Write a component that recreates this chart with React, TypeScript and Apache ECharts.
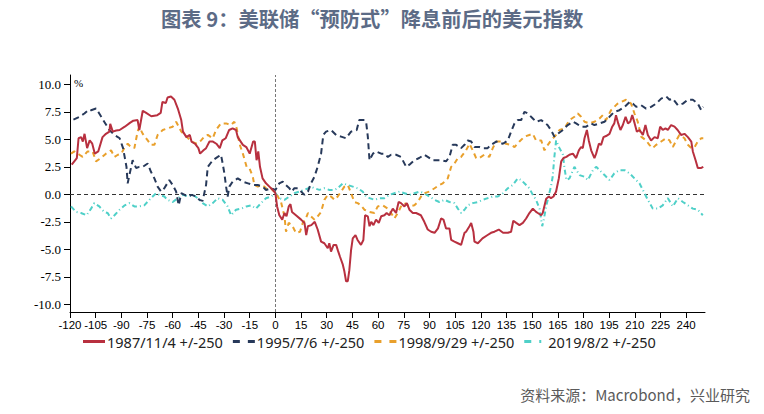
import React, { useEffect, useRef } from "react";
import * as echarts from "echarts";

const TITLE = "图表 9：美联储“预防式”降息前后的美元指数";
const SOURCE = "资料来源：Macrobond，兴业研究";
const UNIT = "%";

const xTicks: number[] = [-120, -105, -90, -75, -60, -45, -30, -15, 0, 15, 30, 45, 60, 75, 90, 105, 120, 135, 150, 165, 180, 195, 210, 225, 240];
const yTicks: number[] = [-10, -7.5, -5, -2.5, 0, 2.5, 5, 7.5, 10];

const seriesNames: string[] = ["1987/11/4 +/-250", "1995/7/6 +/-250", "1998/9/29 +/-250", "2019/8/2 +/-250"];

const s1987: [number, number][] = [
  [-119, 2.7], [-116, 3.3], [-115, 5.1], [-113.5, 5.2], [-112.5, 4.8], [-111.5, 5.5], [-110, 4.2], [-108.5, 4.9], [-107, 4.6], [-105.5, 3.7],
  [-103.5, 3.9], [-101, 5.2], [-99, 5.5], [-97, 5.7], [-96.5, 6.4], [-95, 5.7], [-93, 5.8], [-91, 5.85], [-88, 6.15], [-85, 6.5],
  [-83, 6.7], [-80.5, 6.75], [-79.5, 5.85], [-77.5, 7.6], [-75.5, 7.4], [-72.5, 7.1], [-69, 7.2], [-67, 7.4], [-66, 8.4], [-64, 8.3],
  [-63, 8.8], [-61, 8.9], [-59, 8.6], [-57, 7.8], [-55, 6.75], [-54, 5.7], [-52, 5.2], [-50, 5.4], [-49, 4.8], [-47, 4.6],
  [-45, 4.2], [-44, 3.7], [-42, 4.0], [-40.5, 4.2], [-38.5, 4.8], [-36.5, 4.8], [-34.5, 4.6], [-32.5, 4.2], [-31, 4.9], [-29, 5.1],
  [-27, 5.85], [-25, 6.0], [-23, 5.85], [-22, 5.2], [-19, 4.5], [-17, 4.3], [-15, 3.7], [-13, 4.8], [-12, 4.8], [-11, 3.1],
  [-10, 3.9], [-9, 2.5], [-7.5, 1.45], [-5.5, 1.0], [-3.5, 0.7], [-1.5, 0.4], [0, 0.1], [1, -1.1], [2.3, -1.9], [4, -2.3],
  [5.3, -1.7], [6.5, -2.0], [7.8, -1.1], [8.8, -0.9], [9.7, -1.6], [12, -1.9], [15, -2.3], [17, -2.6], [18, -3.7], [19, -2.9],
  [21, -2.8], [23, -2.5], [24.7, -3.2], [26.7, -4.3], [28.6, -4.45], [30.6, -4.9], [31.5, -4.45], [32.5, -5.2], [34, -4.6], [35.5, -4.6],
  [36.5, -5.1], [37.8, -5.7], [39.4, -6.4], [40.3, -7.0], [41.3, -7.9], [42.3, -7.9], [43.2, -6.9], [44.2, -5.1], [45.2, -4.0], [46.8, -3.7],
  [48, -4.15], [50, -4.6], [51.4, -4.15], [52.4, -1.9], [54, -2.0], [55, -2.9], [56, -2.5], [57.3, -2.8], [58.8, -2.3], [60.4, -2.6],
  [61.8, -2.0], [63.7, -1.9], [65, -1.7], [66.6, -1.9], [68.6, -1.3], [70.5, -1.7], [72, -0.7], [73.4, -0.8], [75.4, -1.1], [76.8, -0.8],
  [78.3, -1.4], [80.3, -1.7], [82.2, -1.7], [85, -1.9], [87, -2.5], [89, -3.2], [91, -3.4], [93, -3.5], [95, -3.1], [96.8, -2.2],
  [98.2, -2.3], [99.7, -3.1], [101.7, -3.1], [102.7, -4.15], [104.6, -4.3], [106.6, -4.45], [108.5, -4.6], [110.5, -3.5], [111.4, -3.4], [113.4, -2.9],
  [114.4, -2.6], [115.7, -3.4], [116.3, -4.3], [118.3, -4.45], [121, -4.0], [124, -3.7], [126, -3.5], [128, -3.4], [130.5, -3.2], [133, -3.5],
  [135.8, -3.5], [137.7, -3.4], [139, -2.4], [140.7, -2.6], [142.6, -2.8], [144.6, -2.6], [146.5, -2.2], [148.4, -1.7], [150.4, -1.3], [152.3, -1.6],
  [153.3, -1.7], [155.3, -1.9], [156.2, -1.7], [158.2, -0.4], [159.8, -0.2], [161, -0.35], [162.5, -0.2], [164, 0.25], [165.6, 1.45], [167, 3.0],
  [168.3, 3.3], [170, 3.4], [171.8, 3.6], [173.8, 3.7], [175.7, 3.3], [177.3, 4.0], [178.6, 4.3], [179.6, 4.2], [180.6, 5.1], [182, 5.85],
  [183.1, 4.9], [184.5, 4.0], [186.4, 3.3], [187.4, 3.7], [189, 4.6], [190.3, 4.5], [191.7, 5.2], [193.2, 5.3], [195.2, 5.5], [196.8, 6.15],
  [198, 6.45], [199, 7.2], [200.3, 6.45], [201.6, 5.85], [203, 6.3], [204.6, 7.05], [206, 6.45], [207.3, 6.6], [208.5, 7.2], [209.9, 6.45],
  [211.2, 5.7], [212.8, 5.85], [214.7, 5.4], [216.2, 6.3], [217.6, 5.4], [219.5, 4.9], [221.5, 5.2], [223.4, 5.1], [224.8, 6.15], [226.3, 5.85],
  [227.9, 6.0], [229.3, 5.85], [231.2, 6.3], [233.2, 6.15], [235, 5.85], [237, 5.4], [239, 5.5], [241, 5.2], [243, 4.8], [243.9, 3.9],
  [245.5, 3.1], [246.8, 2.4], [248.8, 2.4], [250, 2.5],
];

const s1995: [number, number][] = [
  [-118, 6.8], [-114.5, 7.05], [-111.6, 7.35], [-109, 7.7], [-107.7, 7.65], [-104.8, 7.8], [-102.9, 7.35], [-100, 6.6], [-97, 5.85], [-94, 5.4],
  [-91, 5.1], [-89, 4.2], [-87, 2.5], [-86.3, 1.0], [-85.3, 1.75], [-83.4, 3.1], [-81.4, 2.4], [-79.5, 2.5], [-77.5, 2.5], [-74.6, 2.8],
  [-72.7, 2.05], [-70.7, 1.45], [-68.8, 0.7], [-66.8, 0.25], [-64.9, 0.55], [-62, 1.3], [-60, 0.85], [-58, 0.25], [-56.5, -1.0], [-55, 0.1],
  [-53, -0.05], [-51, -0.2], [-49, -0.05], [-46, -0.2], [-44.4, -0.5], [-42.5, -0.6], [-40.5, 0.85], [-39.5, 2.5], [-36.6, 3.1], [-33.7, 3.4],
  [-31.8, 3.6], [-30.8, 2.8], [-29.8, 1.9], [-28.8, 0.7], [-27.9, -0.2], [-26.9, 0.7], [-25, 1.15], [-22, 1.45], [-19, 1.15], [-16, 1.0],
  [-13, 0.85], [-10.3, 0.85], [-7.4, 0.7], [-5.5, 0.4], [-2.5, 0.55], [0, 0.4], [2.3, 1.0], [4.3, 1.15], [6, 0.85], [8.2, 0.55],
  [9.7, 0.25], [11, 0.55], [13, 0.55], [15, 0.25], [17, -0.05], [19, 0.25], [20.8, 1.0], [22.8, 1.6], [24.7, 2.5], [26.7, 3.7],
  [28, 5.4], [29.6, 5.7], [32.5, 5.85], [35.5, 5.4], [38.4, 5.25], [41.3, 5.1], [44.2, 5.7], [47.5, 5.85], [49, 6.75], [52, 6.75],
  [53, 6.6], [54, 5.25], [55, 3.1], [57, 3.7], [58.8, 3.9], [61.8, 3.7], [63.7, 3.7], [65.7, 3.4], [67.6, 3.6], [70.5, 3.6],
  [73.4, 3.4], [76.4, 2.5], [78.3, 2.7], [81.2, 3.1], [84, 3.3], [87, 3.6], [89, 3.4], [92, 3.1], [95, 3.1], [96.8, 3.1],
  [99.7, 3.0], [101.7, 3.4], [103.6, 4.5], [105.6, 4.5], [108.5, 4.2], [110.5, 4.5], [112.4, 4.9], [114.4, 4.8], [116.3, 4.3], [119.2, 4.3],
  [121.2, 4.2], [124, 4.2], [126, 4.5], [129, 4.8], [132.9, 4.6], [135.8, 4.9], [137.7, 5.7], [139.7, 6.45], [141.6, 6.75], [143.6, 6.75],
  [145.5, 7.5], [147.5, 7.35], [150.4, 6.9], [152.3, 6.6], [155.3, 6.75], [159, 6.3], [161, 5.85], [163, 5.25], [165, 5.5], [168, 5.85],
  [170.8, 6.3], [173.8, 6.6], [175.7, 6.45], [178.6, 6.15], [181.6, 6.15], [184.5, 6.45], [186.4, 6.3], [189.4, 6.45], [192.3, 6.6], [195.2, 7.05],
  [198, 7.5], [201, 7.65], [204, 7.95], [207, 8.4], [208.9, 8.25], [210.8, 7.95], [213.7, 8.1], [216.6, 7.8], [219.5, 7.95], [222.5, 8.25],
  [225.4, 8.7], [228.3, 8.9], [230.3, 8.6], [232.2, 8.7], [235.2, 8.1], [238.1, 8.25], [241, 8.6], [243.9, 8.6], [246.8, 8.25], [248.8, 7.65],
  [250, 7.95],
];

const s1998: [number, number][] = [
  [-119.4, 3.7], [-117.5, 3.9], [-114.5, 3.6], [-112.6, 3.4], [-109.7, 3.9], [-106.8, 3.9], [-104.8, 3.0], [-101.9, 3.3], [-99, 3.7], [-96, 4.0],
  [-94, 3.4], [-92, 3.6], [-90, 3.7], [-88, 4.3], [-86.3, 4.6], [-84.4, 4.3], [-82.4, 4.2], [-80.5, 5.7], [-79.5, 6.15], [-77.5, 5.5],
  [-74.6, 4.9], [-72.7, 4.5], [-70.7, 4.5], [-68.8, 5.4], [-65.8, 5.85], [-63, 6.0], [-60, 6.15], [-58, 6.6], [-57, 6.3], [-55, 5.7],
  [-52, 5.25], [-49, 4.8], [-46, 4.6], [-43.4, 4.9], [-41.5, 5.25], [-39.5, 5.4], [-36.6, 5.1], [-34.7, 5.85], [-31.8, 6.45], [-28.8, 6.45],
  [-25.9, 6.3], [-24, 6.6], [-22.6, 6.0], [-21, 4.6], [-19, 3.7], [-16.8, 2.5], [-15.2, 2.4], [-13.2, 1.6], [-12.3, 0.85], [-10.3, 0.7],
  [-8.4, 0.85], [-6.4, 0.7], [-4.5, 0.4], [-2.5, 0.55], [0, 0.1], [1.4, -0.2], [3.3, -0.7], [5.3, -2.0], [6.2, -3.4], [7.8, -2.6],
  [9.7, -2.8], [12, -3.5], [14.4, -3.4], [16, -2.6], [17.5, -2.3], [19, -1.7], [20.8, -2.0], [22.8, -2.3], [24.7, -2.0], [26.7, -1.6],
  [28.6, -0.5], [30.6, -0.05], [32.5, -0.2], [34.5, -0.5], [36.4, -0.2], [38.4, 0.25], [40.3, 0.7], [42.3, 0.85], [44.2, 0.1], [46.2, -0.7],
  [48.1, -0.8], [50, -1.0], [52, -1.4], [55, -1.6], [57.9, -1.7], [59.8, -1.1], [62.7, -1.0], [65.7, -1.3], [67.6, -1.7], [69.5, -2.2],
  [71.5, -1.7], [73.4, -1.1], [75.4, -0.8], [78.3, -1.1], [81.2, -1.0], [83.2, -0.7], [85.1, -0.2], [87, 0.1], [90, 0.25], [93, 0.55],
  [95.8, 0.85], [97.8, 1.0], [100.7, 1.45], [102.7, 2.5], [104.6, 2.8], [106.6, 3.3], [108.5, 3.4], [111.4, 4.0], [113.4, 4.6], [115.3, 4.0],
  [117.3, 3.3], [119.2, 3.3], [122, 3.6], [125, 3.4], [127, 4.2], [129, 4.8], [131.9, 4.8], [134.8, 4.6], [137.7, 4.5], [139.7, 4.3],
  [142.6, 4.8], [145.5, 5.25], [148.4, 5.4], [150.4, 5.5], [152.3, 4.9], [155.3, 4.9], [157.2, 4.0], [159.2, 4.5], [161, 4.9], [164, 5.4],
  [166, 5.85], [168.9, 6.0], [171.8, 6.75], [174.7, 7.05], [176.7, 7.35], [178.6, 7.05], [180.6, 6.6], [183.5, 6.45], [186.4, 6.6], [189.4, 6.9],
  [191.3, 7.2], [193.2, 6.75], [196.1, 7.65], [198, 7.95], [200, 8.25], [202, 8.4], [204.9, 8.6], [207.8, 8.25], [209.8, 7.35], [211.7, 6.6],
  [213.7, 5.25], [216.6, 4.9], [218.5, 4.5], [220.4, 4.2], [222.5, 4.5], [225.4, 4.8], [228.3, 5.1], [230.3, 4.9], [232.2, 4.3], [234.2, 4.9],
  [236, 5.4], [239, 5.1], [241, 4.5], [243, 4.2], [244.9, 4.3], [246.8, 4.8], [248.8, 5.1], [250, 5.1],
];

const s2019: [number, number][] = [
  [-119.4, -1.1], [-116.5, -1.6], [-113.6, -1.7], [-110.3, -1.9], [-107.7, -1.3], [-105.8, -0.8], [-102.9, -1.1], [-100, -1.6], [-98, -1.7], [-96, -2.2],
  [-94, -1.9], [-91, -1.4], [-88, -1.0], [-85.3, -0.8], [-82.4, -1.1], [-79.5, -1.1], [-76.6, -1.0], [-73.6, -0.5], [-71.7, -0.2], [-69.7, 0.1],
  [-67.8, -0.05], [-64.9, -0.2], [-63, -0.5], [-60, -0.7], [-57, -0.35], [-54, -0.05], [-51, -0.2], [-48.3, -0.05], [-45.4, -0.35], [-42.5, -0.8],
  [-39.5, -1.1], [-36.6, -0.8], [-33.7, -0.35], [-30.8, -0.5], [-27.9, -1.1], [-25.9, -1.9], [-23, -1.4], [-20, -1.3], [-17, -1.1], [-14.2, -1.0],
  [-11.3, -1.3], [-8.4, -0.8], [-5.5, -0.35], [-2.5, -0.2], [0, 0.1], [2.3, -0.35], [5.3, -0.5], [8.2, -0.2], [11, 0.1], [14, 0.25],
  [17, 0.4], [19, 0.55], [20.8, 0.7], [22.8, 0.55], [25.7, 0.4], [28.6, 0.55], [31.6, 0.4], [34.5, 0.4], [36.4, 0.55], [39.4, 1.0],
  [42.3, 0.85], [45.2, 0.7], [48.1, 0.55], [51, 0.25], [53, -0.2], [55, -0.35], [57.9, -0.5], [60.8, -0.35], [63.7, -0.35], [66.6, -0.05],
  [69.5, 0.1], [72.5, 0.25], [75.4, 0.1], [78.3, -0.05], [81.2, 0.1], [84.2, 0.25], [87, 0.1], [90, -0.2], [93, -0.5], [95.8, -0.7],
  [98.8, -0.5], [101.7, -0.7], [104.6, -0.8], [106.6, -1.3], [108.5, -1.7], [110.5, -1.4], [112.4, -1.0], [115.3, -0.8], [118.3, -0.7], [121.2, -0.5],
  [124, -0.35], [127, -0.2], [130, -0.2], [133, 0.1], [135.8, 0.55], [138.7, 0.85], [141.6, 1.45], [143.6, 1.3], [146.5, 0.85], [148.4, 0.55],
  [150.4, -0.05], [152.3, -0.5], [154.3, -1.3], [155.9, -2.9], [156.8, -2.3], [158.2, -1.1], [159.8, -0.05], [161, 0.7], [162, 1.6], [163, 3.4],
  [164, 4.9], [166, 4.2], [168, 3.6], [168.9, 2.4], [170, 1.3], [171.8, 1.45], [174.7, 2.5], [177.7, 1.75], [180.6, 1.6], [182.6, 1.3],
  [185.5, 2.2], [187.4, 2.5], [189.4, 2.2], [192.3, 1.75], [195.2, 1.3], [198, 1.9], [201, 2.2], [204, 2.2], [207, 1.9], [209.8, 1.45],
  [212.7, 1.0], [214.7, 0.4], [217.6, -0.5], [220.5, -1.3], [223.4, -1.3], [226.3, -1.0], [229.3, -0.35], [232.2, -1.1], [235.2, -0.35], [238.1, -0.7],
  [241, -1.0], [243.9, -1.3], [246.8, -1.4], [249.7, -1.9],
];

const seriesData = [s1987, s1995, s1998, s2019];
const seriesColors = ["#b8303f", "#27395a", "#e9a02c", "#4fd0c8"];
const seriesDash: any[] = ["solid", [6, 4], [5, 4], [5, 3, 1, 3]];
const legendIcons: string[] = [
  "path://M0,0H22V3H0Z",
  "path://M0,0H7V3H0Z M15,0H22V3H15Z",
  "path://M0,0H7V3H0Z M15,0H22V3H15Z",
  "path://M0,0H7V3H0Z M15,0H17V3H15Z M22,0L22,3",
];

export default function App() {
  const ref = useRef<HTMLDivElement>(null);
  useEffect(() => {
    if (!ref.current) return;
    const chart = echarts.init(ref.current, null, { renderer: "svg" });
    const series: any[] = seriesNames.map((name, i) => ({
      name,
      type: "line",
      data: seriesData[i],
      showSymbol: false,
      symbol: "none",
      z: 10 - i,
      lineStyle: { color: seriesColors[i], width: 2, type: seriesDash[i] },
      itemStyle: { color: seriesColors[i] },
    }));
    series[0].markLine = {
      silent: true,
      symbol: ["none", "none"],
      label: { show: false },
      animation: false,
      data: [
        { xAxis: 0, lineStyle: { color: "#777", type: [3, 2], width: 1 } },
        { yAxis: 0, lineStyle: { color: "#333", type: [4, 3], width: 1 } },
      ],
    };
    chart.setOption({
      animation: false,
      backgroundColor: "#ffffff",
      title: {
        text: TITLE,
        left: 156,
        top: 3,
        textStyle: { fontSize: 20.3, fontWeight: "bold", color: "#5c6b86", fontFamily: "'Noto Sans CJK SC', sans-serif" },
      },
      grid: { left: 70, right: 59, top: 75, bottom: 102, containLabel: false },
      legend: {
        data: seriesNames.map((name, i) => ({ name, icon: legendIcons[i], itemStyle: { color: seriesColors[i], borderWidth: 0 } })),
        left: 78,
        top: 329,
        itemWidth: 22,
        itemHeight: 3,
        itemGap: 10,
        symbolKeepAspect: false,
        textStyle: { fontSize: 14.5, color: "#222", fontFamily: "'Noto Sans', sans-serif", padding: [0, 0, 0, -3] },
      },
      xAxis: {
        type: "value",
        min: -120,
        max: 251,
        splitLine: { show: false },
        axisLine: { show: true, onZero: false, lineStyle: { color: "#000", width: 1 } },
        axisTick: { show: true, length: 6, customValues: xTicks, lineStyle: { color: "#000" } },
        axisLabel: {
          customValues: xTicks,
          color: "#000",
          fontSize: 11.5,
          fontFamily: "'Liberation Sans', sans-serif",
          margin: 7,
        },
      },
      yAxis: {
        type: "value",
        min: -10.7,
        max: 10.85,
        splitLine: { show: false },
        axisLine: { show: true, onZero: false, lineStyle: { color: "#000", width: 1 } },
        axisTick: { show: true, length: 6, customValues: yTicks, lineStyle: { color: "#000" } },
        axisLabel: {
          customValues: yTicks,
          formatter: (v: number) => v.toFixed(1),
          color: "#000",
          fontSize: 13,
          fontFamily: "'Liberation Serif', serif",
          margin: 9,
        },
      },
      graphic: [
        {
          type: "text",
          x: 74,
          y: 77,
          style: { text: UNIT, fill: "#000", font: "11px 'Liberation Serif', serif" },
        },
        {
          type: "text",
          x: 750,
          y: 394,
          style: {
            text: SOURCE,
            fill: "#5a5a5a",
            font: "15px 'Noto Sans CJK SC', sans-serif",
            align: "right",
            verticalAlign: "middle",
            textAlign: "right",
            textVerticalAlign: "middle",
          },
        },
      ],
      series,
    });
    return () => chart.dispose();
  }, []);
  return <div ref={ref} style={{ position: "absolute", left: 0, top: 0, width: 764, height: 414 }} />;
}
